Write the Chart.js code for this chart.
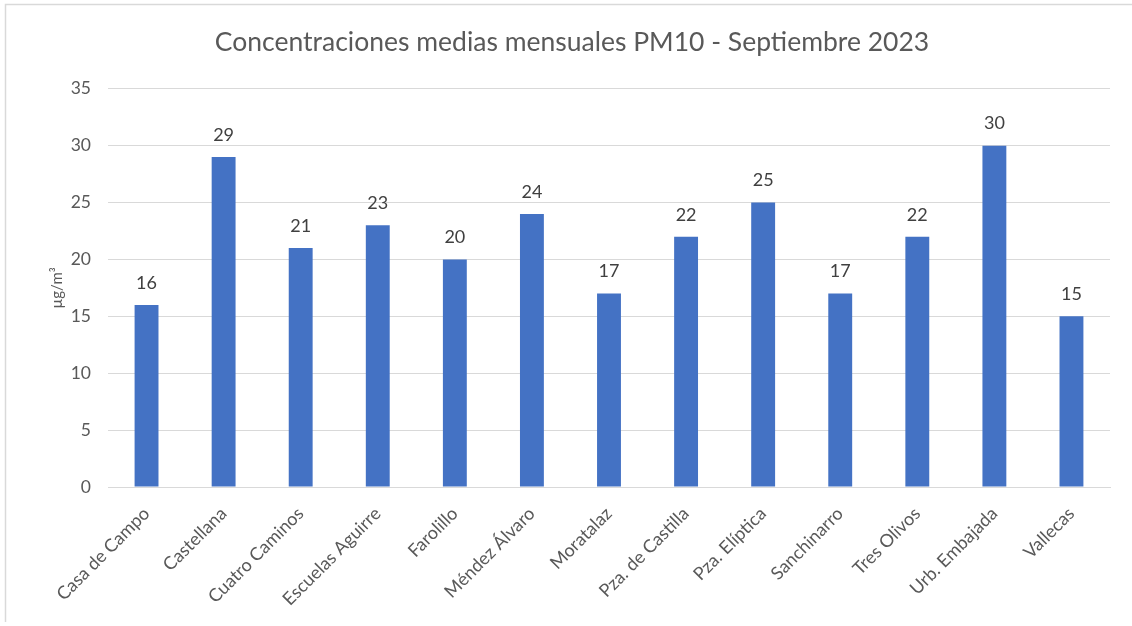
<!DOCTYPE html>
<html>
<head>
<meta charset="utf-8">
<script src="https://cdn.jsdelivr.net/npm/chart.js@4/dist/chart.umd.min.js"></script>
<style>
  html, body { margin: 0; padding: 0; background: #fff; }
  #wrap { width: 1132px; height: 626px; }
</style>
</head>
<body>
<div id="wrap"><canvas id="pm10Chart" width="1132" height="626"></canvas></div>
<script>
// Estaciones y valores medios (µg/m³)
const stations = ['Casa de Campo', 'Castellana', 'Cuatro Caminos', 'Escuelas Aguirre', 'Farolillo',
    'Méndez Álvaro', 'Moratalaz', 'Pza. de Castilla', 'Pza. Elíptica', 'Sanchinarro',
    'Tres Olivos', 'Urb. Embajada', 'Vallecas'];
const pm10Values = [16, 29, 21, 23, 20, 24, 17, 22, 25, 17, 22, 30, 15];
const yTicks = [0, 5, 10, 15, 20, 25, 30, 35];

const FONT = 'Lato, "Open Sans", sans-serif';

// Marco gris (solo se ven los bordes superior e izquierdo)
const frame = {
    id: 'frame',
    beforeDraw(chart) {
        const ctx = chart.ctx;
        ctx.save();
        ctx.fillStyle = '#fff';
        ctx.fillRect(0, 0, chart.width, chart.height);
        ctx.strokeStyle = '#d9d9d9';
        ctx.lineWidth = 1.5;
        ctx.beginPath();
        ctx.moveTo(chart.width, 4.5);
        ctx.lineTo(5.5, 4.5);
        ctx.lineTo(5.5, chart.height - 4);
        ctx.stroke();
        ctx.restore();
    }
};

// Etiquetas de valor encima de cada barra
const valueLabels = {
    id: 'valueLabels',
    afterDatasetsDraw(chart) {
        const ctx = chart.ctx;
        const meta = chart.getDatasetMeta(0);
        ctx.save();
        ctx.fillStyle = '#404040';
        ctx.font = '18px ' + FONT;
        ctx.textAlign = 'center';
        ctx.textBaseline = 'middle';
        meta.data.forEach((bar, i) => {
            ctx.fillText(String(pm10Values[i]), bar.x, bar.y - 22);
        });
        ctx.restore();
    }
};

new Chart(document.getElementById('pm10Chart'), {
    type: 'bar',
    data: {
        labels: stations,
        datasets: [{
            data: pm10Values,
            backgroundColor: '#4472c4',
            barPercentage: 0.31,
            categoryPercentage: 1
        }]
    },
    options: {
        responsive: false,
        animation: false,
        layout: { padding: { left: 22, right: 10, top: 0, bottom: 0 } },
        plugins: {
            legend: { display: false },
            tooltip: { enabled: false },
            title: {
                display: true,
                text: 'Concentraciones medias mensuales PM10 - Septiembre 2023',
                color: '#595959',
                font: { family: FONT, size: 26.5, weight: 'normal' },
                padding: { top: 27, bottom: 30 }
            }
        },
        scales: {
            x: {
                grid: { display: false, drawTicks: false },
                border: { display: true, color: '#d9d9d9' },
                ticks: {
                    color: '#595959',
                    font: { family: FONT, size: 18 },
                    maxRotation: 45,
                    minRotation: 45,
                    padding: 16,
                    autoSkip: false
                },
                afterFit(scale) { scale.height = 139; }
            },
            y: {
                min: 0,
                max: 35,
                afterBuildTicks(scale) { scale.ticks = yTicks.map(v => ({ value: v })); },
                grid: { color: '#d9d9d9', drawTicks: false },
                border: { display: false },
                ticks: {
                    color: '#595959',
                    font: { family: FONT, size: 17.5 },
                    padding: 17
                },
                title: {
                    display: true,
                    text: 'µg/m³',
                    color: '#595959',
                    font: { family: FONT, size: 15 },
                    padding: { top: 26, bottom: 0 }
                },
                afterFit(scale) { scale.width = 86; }
            },
            // eje vacío a la derecha, solo reserva el margen
            yRight: {
                position: 'right',
                grid: { display: false, drawTicks: false },
                border: { display: false },
                ticks: { display: false },
                afterFit(scale) { scale.width = 12; }
            }
        }
    },
    plugins: [frame, valueLabels]
});
</script>
</body>
</html>
